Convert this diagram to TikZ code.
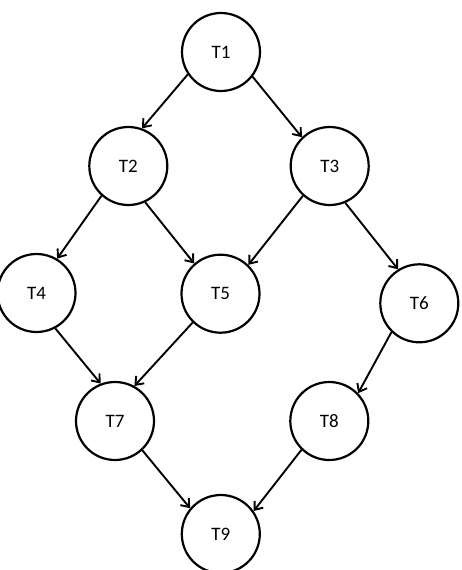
\documentclass[tikz,border=0pt]{standalone}
\usepackage{fontspec}
\setmainfont{Carlito}
\usetikzlibrary{arrows.meta}
\begin{document}
\begin{tikzpicture}[x=1pt,y=-1pt,
  task/.style={circle,draw=black,line width=2.2pt,minimum size=78pt,inner sep=0pt,font=\fontsize{19}{21}\selectfont,fill=white},
  link/.style={line width=1.9pt,-{Straight Barb[length=7pt,width=11pt,line width=1.9pt]}}]
\useasboundingbox (0,0) rectangle (462,570);
\node[task] (T1) at (221,52) {T1};
\node[task] (T2) at (128.3,166) {T2};
\node[task] (T3) at (329.7,166) {T3};
\node[task] (T4) at (36.5,293) {T4};
\node[task] (T5) at (220.5,293.7) {T5};
\node[task] (T6) at (419.3,303.3) {T6};
\node[task] (T7) at (115,421) {T7};
\node[task] (T8) at (329.3,421) {T8};
\node[task] (T9) at (220.8,534) {T9};
\draw[link] (T1.214) -- (T2.70);
\draw[link] (T1.322) -- (T3.134);
\draw[link] (T2.228) -- (T4.59);
\draw[link] (T2.295) -- (T5.131);
\draw[link] (T3.228) -- (T5.46);
\draw[link] (T3.293) -- (T6.122);
\draw[link] (T4.298) -- (T7.111);
\draw[link] (T5.226) -- (T7.61);
\draw[link] (T6.226) -- (T8.44);
\draw[link] (T7.313) -- (T9.140);
\draw[link] (T8.226) -- (T9.35);
\end{tikzpicture}
\end{document}
